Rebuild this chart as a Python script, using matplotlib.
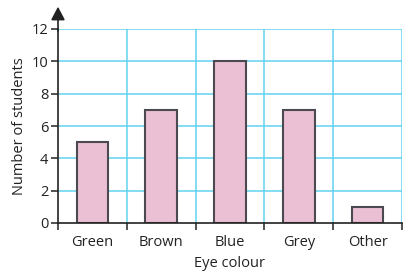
import matplotlib
matplotlib.use("Agg")
import matplotlib.pyplot as plt
import numpy as np

categories = ["Green", "Brown", "Blue", "Grey", "Other"]
values = [5, 7, 10, 7, 1]
yticks = [0, 2, 4, 6, 8, 10, 12]

plt.rcParams['font.family'] = ['Open Sans', 'DejaVu Sans']

fig = plt.figure(figsize=(4.2, 2.8), dpi=100)
ax = fig.add_axes([58/420, 1-223/280, (402-58)/420, (223-29)/280])

grid_c = "#62d2f0"
x = np.arange(len(categories))
ax.set_xlim(-0.5, len(categories) - 0.5)
ax.set_ylim(0, 12)

for yv in yticks[1:]:
    ax.axhline(yv, color=grid_c, lw=1.1, zorder=1)
for xv in np.arange(0.5, len(categories), 1.0):
    ax.axvline(xv, color=grid_c, lw=1.1, zorder=1)

ax.bar(x, values, width=0.46, color="#ecc0d4", edgecolor="#4a4a50", linewidth=1.5, zorder=3)

for s in ["top", "right"]:
    ax.spines[s].set_visible(False)
for s in ["left", "bottom"]:
    ax.spines[s].set_color("#222222")
    ax.spines[s].set_linewidth(1.2)
    ax.spines[s].set_zorder(4)

fs = 10.5
ax.set_yticks(yticks)
ax.set_yticklabels([str(v) for v in yticks])
ax.set_xticks(x)
ax.set_xticklabels(categories)
ax.tick_params(axis='x', length=0, pad=9, labelsize=fs, colors="#222222")
ax.set_xticks(np.arange(-0.5, len(categories), 1.0), minor=True)
ax.tick_params(axis='x', which='minor', length=5, width=1.1, color="#222222", direction='out')
ax.tick_params(axis='y', length=5, width=1.1, color="#222222", labelsize=fs, labelcolor="#222222", pad=2)

ax.set_xlabel("Eye colour", fontsize=fs, color="#222222", labelpad=4)
ax.set_ylabel("Number of students", fontsize=fs, color="#222222", labelpad=3)

# upward arrow at the top of the y axis
ax.annotate("", xy=(0, 1.115), xytext=(0, 0.99), xycoords='axes fraction',
            arrowprops=dict(arrowstyle="-|>,head_length=0.8,head_width=0.42",
                            color="#222222", lw=1.2, shrinkA=0, shrinkB=0),
            annotation_clip=False)

fig.savefig("out.png", dpi=100)
